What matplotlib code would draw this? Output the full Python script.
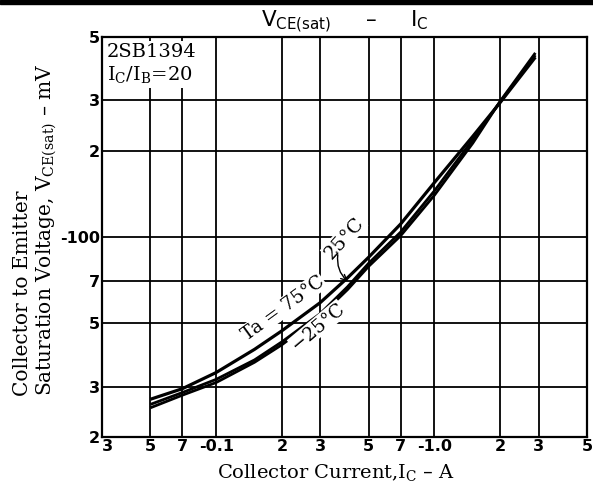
import matplotlib
matplotlib.use("Agg")
import matplotlib.pyplot as plt
from matplotlib.patches import Rectangle

# collector current (A) and VCE(sat) (mV)
ic = [0.05, 0.07, 0.1, 0.15, 0.2, 0.3, 0.4, 0.5, 0.7, 1.0, 1.5, 2.0, 2.9]
v_75 = [27.1, 29.5, 33.6, 40.5, 47, 59, 72, 85, 111, 155, 225, 295, 425]
v_25 = [26.0, 28.6, 31.8, 37.2, 43.0, 54, 67, 81, 104, 145, 219, 297, 432]
v_m25 = [25.3, 28.0, 31.0, 36.5, 42.0, 53, 65.5, 79, 101, 140, 213, 298, 440]

xticks = [0.03, 0.05, 0.07, 0.1, 0.2, 0.3, 0.5, 0.7, 1.0, 2, 3, 5]
xlabels = ["3", "5", "7", "-0.1", "2", "3", "5", "7", "-1.0", "2", "3", "5"]
yticks = [20, 30, 50, 70, 100, 200, 300, 500]
ylabels = ["2", "3", "5", "7", "-100", "2", "3", "5"]

plt.rcParams['mathtext.default'] = 'regular'
serif = "DejaVu Serif"

fig = plt.figure(figsize=(5.93, 4.86), dpi=100)
ax = fig.add_axes([102 / 593, 49 / 486, 485 / 593, 400 / 486])

ax.set_xscale("log")
ax.set_yscale("log")
ax.set_xlim(0.03, 5)
ax.set_ylim(20, 500)

ax.set_xticks(xticks)
ax.set_xticklabels(xlabels)
ax.set_yticks(yticks)
ax.set_yticklabels(ylabels)
ax.minorticks_off()
ax.tick_params(length=0, pad=1.5, labelsize=11.5)
for t in ax.get_xticklabels() + ax.get_yticklabels():
    t.set_fontweight("bold")
# corner label sits just inside the left edge, as on the sheet
ax.get_xticklabels()[0].set_horizontalalignment("left")

ax.set_axisbelow(True)
ax.grid(True, color="black", lw=1.3)
for s in ax.spines.values():
    s.set_linewidth(1.6)

ax.plot(ic, v_75, color="black", lw=2.3, solid_capstyle="butt")
ax.plot(ic, v_25, color="black", lw=2.0, solid_capstyle="butt")
ax.plot(ic, v_m25, color="black", lw=2.0, solid_capstyle="butt")

# curve labels
ax.text(0.373, 0.3225, "Ta = 75°C", transform=ax.transAxes, rotation=36,
        ha="center", va="center", fontsize=13.5, family=serif, zorder=5,
        bbox=dict(fc="white", ec="none", pad=0.5))
ax.text(0.499, 0.4975, "25°C", transform=ax.transAxes, rotation=48,
        ha="center", va="center", fontsize=14, family=serif, zorder=5,
        bbox=dict(fc="white", ec="none", pad=0.5))
ax.text(0.445, 0.275, "\u221225°C", transform=ax.transAxes, rotation=40,
        ha="center", va="center", fontsize=13.5, family=serif, zorder=5,
        bbox=dict(fc="white", ec="none", pad=0.5))
ax.annotate("", xy=(0.41, 69), xycoords="data",
            xytext=(0.487, 0.4625), textcoords="axes fraction",
            arrowprops=dict(arrowstyle="->", lw=1.0, color="black",
                            connectionstyle="arc3,rad=0.3"), zorder=6)

# part number box
ax.text(0.01, 0.985, "2SB1394\nI$_C$/I$_B$=20", transform=ax.transAxes,
        ha="left", va="top", fontsize=14, family=serif, linespacing=1.2,
        zorder=5, bbox=dict(fc="white", ec="none", pad=2))

fig.text(345 / 593, 1 - 22 / 486, "V$_{CE(sat)}$     \u2013     I$_C$",
         ha="center", va="center", fontsize=15.5)
fig.text(336 / 593, 1 - 472 / 486, "Collector Current,I$_C$ \u2013 A",
         ha="center", va="center", fontsize=14, family=serif)
fig.text(23 / 593, 1 - 396 / 486, "Collector to Emitter",
         ha="center", va="bottom", rotation=90, fontsize=14.5, family=serif)
fig.text(47 / 593, 1 - 396 / 486, "Saturation Voltage, V$_{CE(sat)}$ \u2013 mV",
         ha="center", va="bottom", rotation=90, fontsize=14.5, family=serif)

fig.add_artist(Rectangle((0, 1 - 4 / 486), 1, 4 / 486, transform=fig.transFigure,
                         color="black"))

fig.savefig("out.png", dpi=100)
